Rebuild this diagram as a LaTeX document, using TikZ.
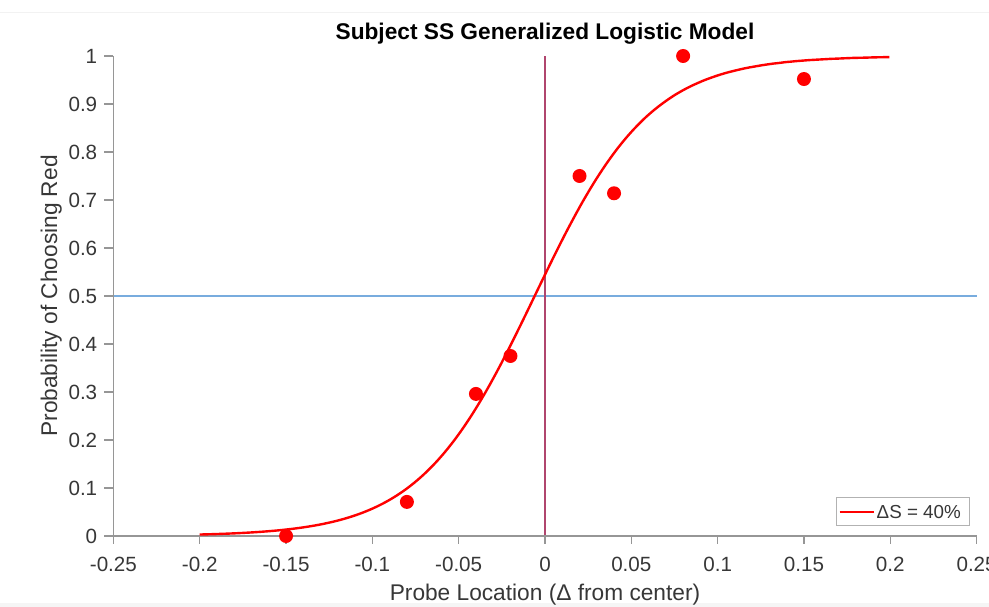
\documentclass[tikz,border=0pt]{standalone}
\usepackage{fontspec}
\setmainfont{Liberation Sans}
\usetikzlibrary{positioning}
\definecolor{fitred}{RGB}{255,0,0}
\definecolor{halfblue}{RGB}{120,172,222}
\definecolor{zeroline}{RGB}{176,70,110}
\definecolor{axisgray}{RGB}{150,150,150}
\definecolor{labelgray}{RGB}{55,55,55}

\begin{document}
\begin{tikzpicture}[x=1pt,y=1pt,
		ticklab/.style={font=\fontsize{20.6}{24}\selectfont,text=labelgray,inner sep=0pt,text depth=0pt},
		axlab/.style={font=\fontsize{22.7}{26}\selectfont,text=labelgray,inner sep=0pt},
		datapt/.style={circle,fill=fitred,inner sep=0pt,minimum size=14pt}]
		\fill[white] (0,0) rectangle (989,607);
		\useasboundingbox (0,0) rectangle (989,607);
		\fill[black!4] (0,0) rectangle (989,4);  % screenshot edges
		\draw[black!5] (0,594.5) -- (989,594.5);
		\begin{scope}[shift={(545,71)},x=1726.4pt,y=480pt]
			\draw[halfblue,line width=2.6pt] (-0.25,0.5) -- (0.25,0.5);
			\draw[zeroline,line width=1.3pt] (0,0) -- (0,1);
			\draw[axisgray,line width=1.3pt] (-0.25,1) -- (-0.25,0) -- (0.25,0);
			\foreach \t [count=\i] in {-0.25,-0.2,-0.15,-0.1,-0.05,0,0.05,0.1,0.15,0.2,0.25} {
				\draw[axisgray,line width=1.3pt] (\t,0) -- ++(0,-8pt);
				\node[ticklab,anchor=base] (xt\i) at ([yshift=-36pt]\t,0) {\t};
			}
			\foreach \t [count=\i] in {0,0.1,0.2,0.3,0.4,0.5,0.6,0.7,0.8,0.9,1} {
				\draw[axisgray,line width=1.3pt] (-0.25,\t) -- ++(-9pt,0);
				\node[ticklab,anchor=east] (yt\i) at ([xshift=-16pt]-0.25,\t) {\t};
			}
			% fitted curve and data
			\draw[fitred,line width=2.4pt,domain=-0.2:0.2,samples=120,smooth]
				plot (\x,{1/(1+exp(-(\x+0.006)/0.0335))});
			\foreach \px/\py [count=\i] in {-0.15/0,-0.08/0.071,-0.04/0.296,-0.02/0.375,0.02/0.75,0.04/0.714,0.08/1,0.15/0.952}
				\node[datapt] (pt\i) at (\px,\py) {};
		\end{scope}
		\node[font=\bfseries\fontsize{22.7}{26}\selectfont,anchor=base,inner sep=0pt] (title) at (545,567) {Subject SS Generalized Logistic Model};
		\node[axlab,anchor=base] (xlab) at (545,6) {Probe Location (Δ from center)};
		\node[axlab,anchor=base,rotate=90] (ylab) at (57,311) {Probability of Choosing Red};
		% legend
		\node[draw=black!30,fill=white,line width=1pt,minimum width=133pt,minimum height=28pt,inner sep=0pt] (legend) at (902.5,95) {};
		\draw[fitred,line width=2.4pt] ([xshift=4pt]legend.west) -- ++(34pt,0) coordinate (legline);
		\node[right=3pt of legline,font=\fontsize{18.8}{22}\selectfont,text=labelgray,inner sep=0pt] (legtext) {ΔS = 40\%};
\end{tikzpicture}
\end{document}
